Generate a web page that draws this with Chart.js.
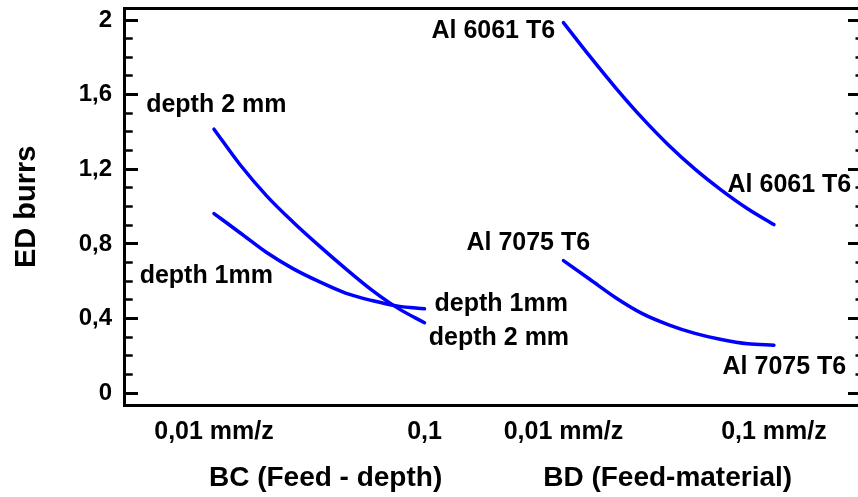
<!DOCTYPE html>
<html>
<head>
<meta charset="utf-8">
<script src="https://cdn.jsdelivr.net/npm/chart.js@4"></script>
<style>
html,body{margin:0;padding:0;background:#fff;overflow:hidden;width:858px;height:497px}
canvas{display:block}
</style>
</head>
<body>
<canvas id="c" width="862" height="497" style="width:862px;height:497px"></canvas>
<script>
// ---- data ----
const feedSteps = [0, 0.125, 0.25, 0.375, 0.5, 0.625, 0.75, 0.875, 1]; // position along feed (low -> high)
const bcStart = 0;                                   // BC block start position
const bdStart = 1.66;                                // BD block start position
const xTickValues = [0, 1, 1.66, 2.66];
const xTickLabels = ['0,01 mm/z', '0,1', '0,01 mm/z', '0,1 mm/z'];
const groupTitleValues = [0.53, 2.155];
const groupTitles = ['BC (Feed - depth)', 'BD (Feed-material)'];

const seriesNames = ['depth 2 mm', 'depth 1mm', 'Al 6061 T6', 'Al 7075 T6'];
const depth2mm = [1.415, 1.223, 1.058, 0.918, 0.790, 0.668, 0.553, 0.455, 0.378];
const depth1mm = [0.963, 0.859, 0.754, 0.668, 0.598, 0.537, 0.497, 0.467, 0.453];
const al6061   = [1.986, 1.806, 1.634, 1.474, 1.329, 1.201, 1.089, 0.989, 0.904];
const al7075   = [0.711, 0.611, 0.511, 0.427, 0.367, 0.321, 0.288, 0.265, 0.258];

const yTickValues = [0, 0.1, 0.2, 0.3, 0.4, 0.5, 0.6, 0.7, 0.8, 0.9, 1.0,
                     1.1, 1.2, 1.3, 1.4, 1.5, 1.6, 1.7, 1.8, 1.9, 2.0];
const yMajorValues = [0, 0.4, 0.8, 1.2, 1.6, 2];
const yMajorLabels = ['0', '0,4', '0,8', '1,2', '1,6', '2'];

// ---- label placement (layout only) ----
const labelPlacement = [
  [{dx: 2.3, dy: -17, align: 'center'}, {dx: 4.3, dy: 22.7, align: 'left'}],
  [{dx: -7.7, dy: 69.3, align: 'center'}, {dx: 10, dy: 2.4, align: 'left'}],
  [{dx: -8.3, dy: 15.6, align: 'right'}, {dx: 77.3, dy: -32.3, align: 'right'}],
  [{dx: 26.7, dy: -10.3, align: 'right'}, {dx: 72.3, dy: 29.3, align: 'right'}]
];

const FONT = '"Liberation Sans", Arial, Helvetica, sans-serif';
Chart.defaults.font.family = FONT;
Chart.defaults.font.weight = 'bold';
Chart.defaults.font.size = 25;
Chart.defaults.color = '#000';

const pts = (start, vals) => vals.map((v, i) => ({x: start + feedSteps[i], y: v}));
const isMajor = v => yMajorValues.some(m => Math.abs(m - v) < 1e-6);

const endLabels = {
  id: 'endLabels',
  afterDatasetsDraw(chart) {
    const ctx = chart.ctx;
    ctx.save();
    ctx.font = 'bold 25px ' + FONT;
    ctx.fillStyle = '#000';
    ctx.textBaseline = 'alphabetic';
    chart.data.datasets.forEach((ds, i) => {
      const el = chart.getDatasetMeta(i).data;
      const ends = [el[0], el[el.length - 1]];
      labelPlacement[i].forEach((p, k) => {
        ctx.textAlign = p.align;
        ctx.fillText(ds.label, ends[k].x + p.dx, ends[k].y + p.dy);
      });
    });
    ctx.restore();
  }
};

const lineStyle = {
  borderColor: '#0000ff', borderWidth: 3.5, pointRadius: 0, fill: false,
  cubicInterpolationMode: 'monotone', borderCapStyle: 'round', borderJoinStyle: 'round'
};

const X_MIN = -0.4276, X_MAX = 3.0689;
const Y_MIN = -0.0664, Y_MAX = 2.0643;

new Chart(document.getElementById('c'), {
  type: 'line',
  data: {
    datasets: [
      Object.assign({label: seriesNames[0], data: pts(bcStart, depth2mm)}, lineStyle),
      Object.assign({label: seriesNames[1], data: pts(bcStart, depth1mm)}, lineStyle),
      Object.assign({label: seriesNames[2], data: pts(bdStart, al6061)}, lineStyle),
      Object.assign({label: seriesNames[3], data: pts(bdStart, al7075)}, lineStyle)
    ]
  },
  options: {
    responsive: false,
    animation: false,
    events: [],
    layout: {padding: {top: 8, left: 0, right: 2, bottom: 0}, autoPadding: false},
    plugins: {legend: {display: false}, tooltip: {enabled: false}, title: {display: false}},
    scales: {
      x: {
        type: 'linear', position: 'bottom', min: X_MIN, max: X_MAX, weight: 0,
        afterBuildTicks: s => { s.ticks = xTickValues.map(v => ({value: v})); },
        afterFit: s => { s.height = 40; s.paddingLeft = 0; s.paddingRight = 0; },
        ticks: {autoSkip: false, maxRotation: 0, minRotation: 0, padding: 11.2,
                font: {size: 25}, callback: (v, i) => xTickLabels[i]},
        grid: {display: true, drawOnChartArea: false, drawTicks: false},
        border: {display: true, width: 3, color: '#000'}
      },
      xT: {
        type: 'linear', position: 'bottom', min: X_MIN, max: X_MAX, weight: 1,
        afterBuildTicks: s => { s.ticks = groupTitleValues.map(v => ({value: v})); },
        afterFit: s => { s.height = 51.3; s.paddingLeft = 0; s.paddingRight = 0; },
        ticks: {autoSkip: false, maxRotation: 0, minRotation: 0, padding: 16,
                font: {size: 28}, callback: (v, i) => groupTitles[i]},
        grid: {display: true, drawOnChartArea: false, drawTicks: false},
        border: {display: false}
      },
      xTop: {
        type: 'linear', position: 'top', min: X_MIN, max: X_MAX,
        afterFit: s => { s.height = 0; s.paddingLeft = 0; s.paddingRight = 0; },
        ticks: {display: false},
        grid: {display: true, drawOnChartArea: false, drawTicks: false},
        border: {display: true, width: 3, color: '#000'}
      },
      y: {
        type: 'linear', position: 'left', min: Y_MIN, max: Y_MAX,
        afterBuildTicks: s => { s.ticks = yTickValues.map(v => ({value: v})); },
        afterFit: s => { s.width = 124; s.paddingTop = 0; s.paddingBottom = 0; },
        ticks: {autoSkip: false, padding: 26, font: {size: 24},
                callback: v => { const k = yMajorValues.findIndex(m => Math.abs(m - v) < 1e-6); return k >= 0 ? yMajorLabels[k] : ''; }},
        grid: {
          display: true, drawOnChartArea: false, drawTicks: true, tickLength: -14,
          tickColor: '#000',
          tickWidth: c => isMajor(c.tick.value) ? 3 : 2.5,
          tickBorderDash: c => isMajor(c.tick.value) ? [] : [10.5, 5.3],
          tickBorderDashOffset: c => isMajor(c.tick.value) ? 0 : 10.5
        },
        border: {display: true, width: 3, color: '#000'},
        title: {display: true, text: 'ED burrs', font: {size: 29}, padding: {top: 9.6, bottom: 0}}
      },
      yR: {
        type: 'linear', position: 'right', min: Y_MIN, max: Y_MAX,
        afterBuildTicks: s => { s.ticks = yTickValues.map(v => ({value: v})); },
        afterFit: s => { s.width = 0; s.paddingTop = 0; s.paddingBottom = 0; },
        ticks: {display: false},
        grid: {
          display: true, drawOnChartArea: false, drawTicks: true, tickLength: -12,
          tickColor: '#000',
          tickWidth: c => isMajor(c.tick.value) ? 3 : 2.5,
          tickBorderDash: c => isMajor(c.tick.value) ? [] : [6.5, 20]
        },
        border: {display: true, width: 3, color: '#000'}
      }
    }
  },
  plugins: [endLabels]
});
</script>
</body>
</html>
